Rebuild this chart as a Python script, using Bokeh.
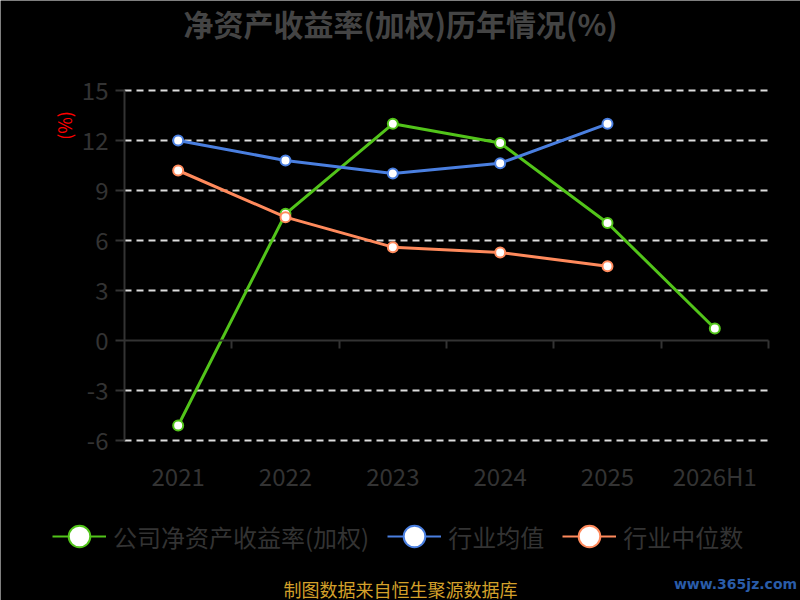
from bokeh.plotting import figure
from bokeh.models import (Range1d, LinearAxis, FixedTicker, Label, Legend, LegendItem,
                          ColumnDataSource)
from bokeh.embed import file_html
from bokeh.resources import INLINE
import math

categories = ["2021", "2022", "2023", "2024", "2025", "2026H1"]
company = [-5.1, 7.6, 13.0, 11.85, 7.05, 0.72]
industry_avg = [12.0, 10.8, 10.02, 10.64, 13.0]
industry_median = [10.2, 7.4, 5.6, 5.28, 4.46]
y_ticks = [-6, -3, 0, 3, 6, 9, 12, 15]

title_text = "净资产收益率(加权)历年情况(%)"
series_names = ["公司净资产收益率(加权)", "行业均值", "行业中位数"]
source_text = "制图数据来自恒生聚源数据库"
watermark = "www.365jz.com"

GREEN = "#52c41a"
BLUE = "#4a7fe0"
ORANGE = "#ff8a5c"
AXIS = "#333333"
FONT = "Noto Sans CJK SC"

W, H = 800, 600
# plot-area placement inside the canvas (pixels)
LEFT, RIGHT, TOP, BOTTOM = 124, 768, 90, 440

n = len(categories)
y0, y1 = y_ticks[0], y_ticks[-1]
xpx = (RIGHT - LEFT) / n
ypx = (BOTTOM - TOP) / (y1 - y0)
x_range = Range1d(-LEFT / xpx, n + (W - RIGHT) / xpx)
y_range = Range1d(y0 - (H - BOTTOM) / ypx, y1 + TOP / ypx)

xs = [i + 0.5 for i in range(n)]

p = figure(width=W, height=H, output_backend="svg", toolbar_location=None,
           x_range=x_range, y_range=y_range, x_axis_type=None, y_axis_type=None,
           min_border=0)
p.title.visible = False
p.background_fill_color = "black"
p.border_fill_color = "black"
p.outline_line_color = None
p.xgrid.visible = False
p.ygrid.visible = False

# dashed horizontal grid lines (not at 0, where the axis line is)
grid_vals = [t for t in y_ticks if t != 0]
p.segment(x0=[0] * len(grid_vals), x1=[n] * len(grid_vals), y0=grid_vals, y1=grid_vals,
          line_color="#dddddd", line_width=2, line_dash="7 5")

# y axis
yax = LinearAxis(ticker=FixedTicker(ticks=y_ticks), fixed_location=0, bounds=(y0, y1),
                 major_label_overrides={t: str(t) for t in y_ticks})
yax.axis_line_color = AXIS
yax.axis_line_width = 2
yax.major_tick_line_color = AXIS
yax.major_tick_line_width = 2
yax.major_tick_out = 9
yax.major_tick_in = 0
yax.minor_tick_line_color = None
yax.major_label_text_font = FONT
yax.major_label_text_font_size = "24px"
yax.major_label_text_color = AXIS
yax.major_label_standoff = 7
p.add_layout(yax, "left")

# zero axis line with ticks on category boundaries
zax = LinearAxis(fixed_location=0, bounds=(0, n), ticker=FixedTicker(ticks=list(range(1, n + 1))),
                 major_label_overrides={i: "" for i in range(1, n + 1)})
zax.axis_line_color = AXIS
zax.axis_line_width = 2
zax.major_tick_line_color = AXIS
zax.major_tick_line_width = 2
zax.major_tick_out = 8
zax.major_tick_in = 0
zax.minor_tick_line_color = None
p.add_layout(zax, "below")

# category labels under the plot area
xax = LinearAxis(fixed_location=y0, ticker=FixedTicker(ticks=xs),
                 major_label_overrides={x: c for x, c in zip(xs, categories)})
xax.axis_line_color = None
xax.major_tick_line_color = None
xax.minor_tick_line_color = None
xax.major_label_text_font = FONT
xax.major_label_text_font_size = "24px"
xax.major_label_text_color = AXIS
xax.major_label_standoff = 11
p.add_layout(xax, "below")

series = [(company, GREEN), (industry_avg, BLUE), (industry_median, ORANGE)]
items = []
for (vals, col), name in zip(series, series_names):
    src = ColumnDataSource(dict(x=xs[:len(vals)], y=vals))
    p.line("x", "y", source=src, line_color=col, line_width=3)
    p.scatter("x", "y", source=src, size=10, fill_color="white", line_color=col, line_width=2)
    # legend-only renderers (hidden, larger marker for the legend key)
    lr = p.line("x", "y", source=src, line_color=col, line_width=2, visible=False)
    sr = p.scatter("x", "y", source=src, size=22, fill_color="white", line_color=col,
                   line_width=2, visible=False)
    items.append(LegendItem(label=name, renderers=[lr, sr]))

legend = Legend(items=items, orientation="horizontal", location=(52, 36))
legend.label_text_font = FONT
legend.label_text_font_size = "24px"
legend.label_text_color = AXIS
legend.glyph_width = 54
legend.glyph_height = 56
legend.label_standoff = 7
legend.spacing = 18
legend.padding = 0
legend.margin = 0
legend.border_line_color = None
legend.background_fill_alpha = 0
legend.inactive_fill_alpha = 0
p.add_layout(legend, "center")

# title
p.add_layout(Label(x=400, y=H - 22, x_units="screen", y_units="screen", text=title_text,
                   text_font=FONT, text_font_size="30px", text_font_style="bold",
                   text_color="#444444", text_align="center", text_baseline="middle"))
# y unit label
p.add_layout(Label(x=63, y=H - 125, x_units="screen", y_units="screen", text="(%)",
                   text_font=FONT, text_font_size="18px", text_color="red", angle=math.pi / 2,
                   text_align="center", text_baseline="middle"))
# source
p.add_layout(Label(x=400, y=H - 588, x_units="screen", y_units="screen", text=source_text,
                   text_font=FONT, text_font_size="18px", text_color="#d4a02a",
                   text_align="center", text_baseline="middle"))
# watermark
p.add_layout(Label(x=735, y=H - 583, x_units="screen", y_units="screen", text=watermark,
                   text_font="DejaVu Sans", text_font_size="14px", text_font_style="bold",
                   text_color="#2a5ca8", text_align="center", text_baseline="middle"))

html = file_html(p, INLINE)
html = html.replace("<body>", '<body style="margin:0;overflow:hidden;background:#000">', 1)
open("out.html", "w").write(html)
